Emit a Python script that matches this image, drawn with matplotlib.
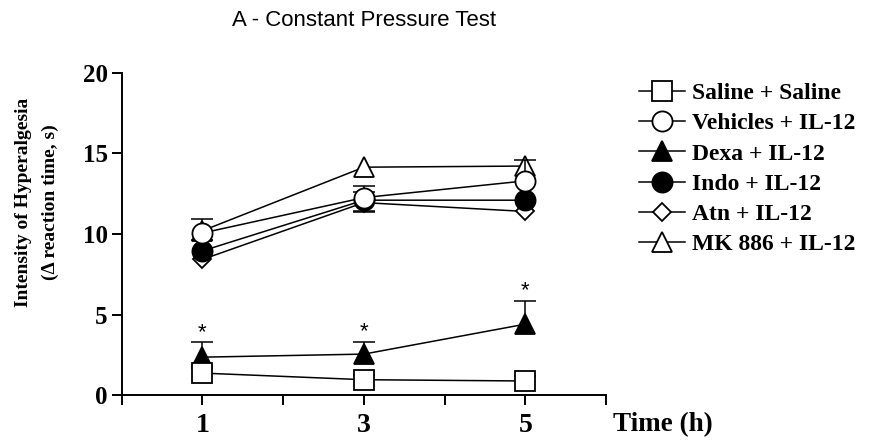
import matplotlib
matplotlib.use("Agg")
import matplotlib.pyplot as plt
import numpy as np

# ---- data ----
time_h = [1, 3, 5]
labels = ["Saline + Saline", "Vehicles + IL-12", "Dexa + IL-12",
          "Indo + IL-12", "Atn + IL-12", "MK 886 + IL-12"]
saline = [1.36, 0.95, 0.87]
vehicles = [10.06, 12.26, 13.3]
dexa = [2.35, 2.54, 4.4]
indo = [8.95, 12.1, 12.1]
atn = [8.42, 11.95, 11.4]
mk886 = [10.2, 14.15, 14.22]

saline_err_up = [0.3, 0.3, 0.3]
vehicles_err_up = [0.9, 0.7, 1.3]
dexa_err_up = [0.93, 0.76, 1.44]
indo_err_up = [0.65, 0.5, 0.0]
indo_err_down = [0.0, 0.7, 0.0]
atn_err_down = [0.0, 0.6, 0.0]

star_points = [1, 3, 5]          # significant time points for Dexa
x_ticks = [0, 1, 2, 3, 4, 5, 6]
x_ticklabels = ["", "1", "", "3", "", "5", ""]
y_ticks = [0, 5, 10, 15, 20]

serif = "Liberation Serif"
sans = "Liberation Sans"

fig = plt.figure(figsize=(8.9, 4.46), dpi=100)
ax = fig.add_axes([121.7 / 890, 1 - 395 / 446, (606 - 121.7) / 890, (395 - 73) / 446])

lw = 1.1
ms = 14.5
common = dict(color="black", lw=lw, mec="black", mew=1.3, clip_on=False)
ekw = dict(fmt="none", ecolor="black", elinewidth=lw, capsize=7.8, capthick=lw, clip_on=False)

series = [
    (5, mk886, "^", "white", None),
    (4, atn, "D", "white", (atn_err_down, [0, 0, 0])),
    (3, indo, "o", "black", (indo_err_down, indo_err_up)),
    (2, dexa, "^", "black", ([0, 0, 0], dexa_err_up)),
    (1, vehicles, "o", "white", ([0, 0, 0], vehicles_err_up)),
    (0, saline, "s", "white", ([0, 0, 0], saline_err_up)),
]

handles = {}
for k, (idx, yv, mk, fc, errs) in enumerate(series):
    z = 3 + 2 * k
    if errs is not None:
        eb = ax.errorbar(time_h, yv, yerr=[errs[0], errs[1]], zorder=z, **ekw)
        # drop caps for zero-length error sides
        for cap in eb.lines[1]:
            xd = np.asarray(cap.get_xdata(), float)
            yd = np.asarray(cap.get_ydata(), float)
            base = np.array([yv[time_h.index(x)] for x in xd])
            keep = np.abs(yd - base) > 1e-9
            cap.set_data(xd[keep], yd[keep])
            cap.set_clip_on(False)
        for art in eb.lines[2]:
            art.set_clip_on(False)
    size = ms * 0.66 if mk == "D" else ms
    ln, = ax.plot(time_h, yv, marker=mk, mfc=fc, ms=size, zorder=z + 1,
                  label=labels[idx], **common)
    handles[idx] = ln

# significance stars
for xs in star_points:
    i = time_h.index(xs)
    ax.text(xs, dexa[i] + dexa_err_up[i] + 0.62, "*", ha="center", va="center",
            fontsize=16, family=sans, zorder=20)

ax.set_xlim(0, 6)
ax.set_ylim(0, 20)
ax.set_xticks(x_ticks)
ax.set_xticklabels(x_ticklabels)
ax.set_yticks(y_ticks)
for s in ["top", "right"]:
    ax.spines[s].set_visible(False)
for s in ["left", "bottom"]:
    ax.spines[s].set_linewidth(1.4)
ax.tick_params(axis="both", direction="out", length=7.2, width=1.4, color="black")
ax.tick_params(axis="x", pad=6.0)
ax.tick_params(axis="y", pad=2.8)
for t in ax.get_xticklabels():
    t.set_fontfamily(serif); t.set_fontweight("bold"); t.set_fontsize(20)
for t in ax.get_yticklabels():
    t.set_fontfamily(serif); t.set_fontweight("bold"); t.set_fontsize(18)

# axis labels
fig.text(613 / 890, 1 - 431 / 446, "Time (h)", ha="left", va="baseline",
         family=serif, fontweight="bold", fontsize=19.5)
fig.text(37 / 890, 1 - 202 / 446, "Intensity of Hyperalgesia\n(\u0394 reaction time, s)",
         rotation=90, ha="center", va="center", multialignment="center",
         family=serif, fontweight="bold", fontsize=14, linespacing=1.8)

# title
fig.text((121.7 + 606) / 2 / 890, 1 - 25.7 / 446, "A - Constant Pressure Test",
         ha="center", va="baseline", family=sans, fontsize=16)

# legend
leg = fig.legend([handles[i] for i in range(6)], labels, loc="upper left",
                 bbox_to_anchor=(639 / 890, 1 - 82.5 / 446), frameon=False,
                 borderpad=0, borderaxespad=0, handlelength=1.95, handletextpad=0.3,
                 labelspacing=0.37, prop=dict(family=serif, weight="bold", size=17))

fig.savefig("out.png", dpi=100)
